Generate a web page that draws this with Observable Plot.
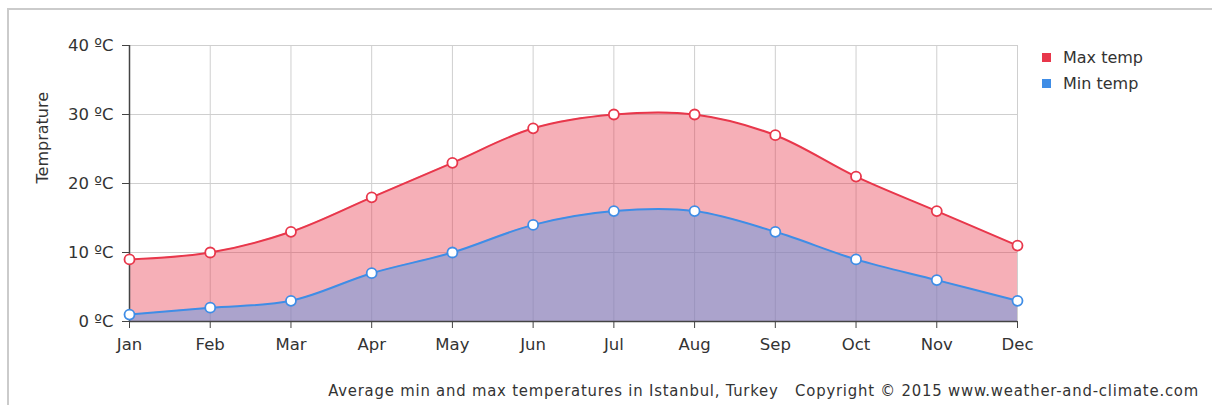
<!DOCTYPE html>
<html>
<head>
<meta charset="utf-8">
<script src="https://cdn.jsdelivr.net/npm/d3@7"></script>
<script src="https://cdn.jsdelivr.net/npm/@observablehq/plot@0.6"></script>
<style>
  html, body { margin: 0; padding: 0; background: #fff; }
  #wrap { position: relative; width: 1212px; height: 405px; overflow: hidden; font-family: "DejaVu Sans", sans-serif; color: #333; }
  #frame { position: absolute; left: 7px; top: 8px; width: 1220px; height: 420px; border-left: 2px solid #cbcbcb; border-top: 2px solid #cbcbcb; }
  #chart { position: absolute; left: 0; top: 0; }
  .leg { position: absolute; left: 1042px; font-size: 16px; line-height: 20px; color: #333; white-space: nowrap; }
  .leg span.sw { display: inline-block; width: 9px; height: 9px; margin-right: 12px; vertical-align: 1px; }
  #caption { position: absolute; right: 13px; top: 381px; font-family: "DejaVu Sans Condensed", "DejaVu Sans", sans-serif; font-size: 16.5px; letter-spacing: 0.8px; color: #333; white-space: nowrap; }
</style>
</head>
<body>
<div id="wrap">
  <div id="frame"></div>
  <div id="chart"></div>
  <div class="leg" style="top:48px"><span class="sw" style="background:#e8374b"></span>Max temp</div>
  <div class="leg" style="top:74px"><span class="sw" style="background:#3f8de6"></span>Min temp</div>
  <div id="caption">Average min and max temperatures in Istanbul, Turkey &nbsp;&nbsp;Copyright © 2015 www.weather-and-climate.com</div>
</div>
<script>
const months = ["Jan","Feb","Mar","Apr","May","Jun","Jul","Aug","Sep","Oct","Nov","Dec"];
const maxTemp = [9, 10, 13, 18, 23, 28, 30, 30, 27, 21, 16, 11];
const minTemp = [1, 2, 3, 7, 10, 14, 16, 16, 13, 9, 6, 3];
const yTicks = [0, 10, 20, 30, 40];
const yTickLabels = ["0 ºC", "10 ºC", "20 ºC", "30 ºC", "40 ºC"];
const yLabel = "Temprature";

const data = months.map((m, i) => ({month: m, max: maxTemp[i], min: minTemp[i]}));

const chart = Plot.plot({
  width: 1212,
  height: 405,
  marginLeft: 129,
  marginRight: 195,
  marginTop: 45,
  marginBottom: 84,
  style: {fontFamily: "DejaVu Sans, sans-serif", fontSize: "16.5px", color: "#333", background: "transparent"},
  x: {type: "point", domain: months, padding: 0, round: false, axis: null},
  y: {domain: [0, 40], axis: null},
  marks: [
    Plot.gridY(yTicks, {stroke: "#cfcfcf", strokeOpacity: 1}),
    Plot.gridX(months, {stroke: "#cfcfcf", strokeOpacity: 1}),
    Plot.areaY(data, {x: "month", y: "max", fill: "#e8374b", fillOpacity: 0.4, curve: "catmull-rom"}),
    Plot.areaY(data, {x: "month", y: "min", fill: "#5f97e1", fillOpacity: 0.5, curve: "catmull-rom"}),
    Plot.ruleX([months[0]], {stroke: "#444", strokeWidth: 1.5}),
    Plot.ruleY([0], {stroke: "#444", strokeWidth: 1.5}),
    Plot.axisY({ticks: yTicks, tickFormat: (d) => yTickLabels[yTicks.indexOf(d)], tickSize: 7, tickPadding: 9, stroke: "#444", fill: "#333", label: null}),
    Plot.axisX({ticks: months, tickSize: 7, tickPadding: 10, stroke: "#444", fill: "#333", label: null}),
    Plot.lineY(data, {x: "month", y: "max", stroke: "#e8374b", strokeWidth: 2, curve: "catmull-rom"}),
    Plot.lineY(data, {x: "month", y: "min", stroke: "#3f8de6", strokeWidth: 2, curve: "catmull-rom"}),
    Plot.dot(data, {x: "month", y: "max", r: 5, fill: "white", stroke: "#e8374b", strokeWidth: 1.8}),
    Plot.dot(data, {x: "month", y: "min", r: 5, fill: "white", stroke: "#3f8de6", strokeWidth: 1.8}),
    Plot.text([yLabel], {frameAnchor: "left", dx: -87, rotate: -90, fill: "#333", fontSize: 16})
  ]
});
document.getElementById("chart").appendChild(chart);
</script>
</body>
</html>
